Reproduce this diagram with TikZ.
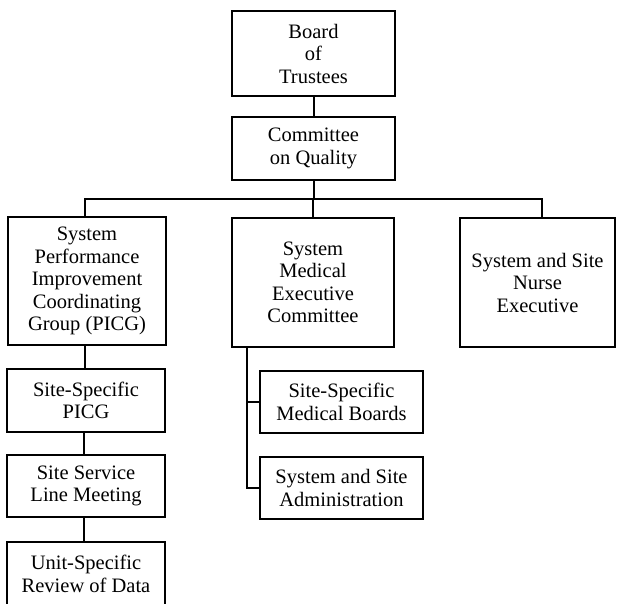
\documentclass[tikz,border=0pt]{standalone}
\usepackage{fontspec}
\setmainfont{Liberation Serif}
\begin{document}
\begin{tikzpicture}[x=1pt,y=-1pt,
  box/.style={draw, line width=2pt, inner sep=0pt, align=center,
    font=\fontsize{20.5}{22.5}\selectfont},
  link/.style={line width=2pt}]
\useasboundingbox (0,0) rectangle (617,603);
\clip (0,0) rectangle (617,603);

% top of the hierarchy
\node[box, minimum width=163pt, minimum height=85pt] (board) at (313.5,53.5) {Board\\of\\Trustees};
\node[box, minimum width=163pt, minimum height=63pt] (comm) at (313.5,148.5) {Committee\\on Quality};

% second tier
\node[box, minimum width=158pt, minimum height=128pt] (picg) at (87,281)
  {System\\Performance\\Improvement\\Coordinating\\Group (PICG)};
\node[box, minimum width=162pt, minimum height=129pt] (smec) at (313,282.5)
  {System\\Medical\\Executive\\Committee};
\node[box, minimum width=155pt, minimum height=129pt] (nurse) at (537.5,282.5)
  {System and Site\\Nurse\\Executive};

% PICG chain
\node[box, minimum width=158pt, minimum height=63pt] (sspicg) at (86,400.5) {Site-Specific\\PICG};
\node[box, minimum width=158pt, minimum height=62pt] (ssl) at (86,486) {Site Service\\Line Meeting};
\node[box, minimum width=158pt, minimum height=64pt] (unit) at (86,574) {Unit-Specific\\Review of Data};

% medical executive branch
\node[box, minimum width=163pt, minimum height=62pt] (ssmb) at (341.5,402) {Site-Specific\\Medical Boards};
\node[box, minimum width=163pt, minimum height=62pt] (ssa) at (341.5,488) {System and Site\\Administration};

% connectors
\coordinate (bus) at (0,199);
\coordinate (tap) at ([xshift=-66pt]smec.south);
\draw[link] (board.south) -- (comm.north);
\draw[link] (comm.south) -- (comm.south |- bus);
\draw[link] ([xshift=-2pt]picg.north) |- ([xshift=4.5pt]nurse.north |- bus) -- ([xshift=4.5pt]nurse.north);
\draw[link] (smec.north) -- (smec.north |- bus);
\draw[link] ([xshift=-2pt]picg.south) -- ([xshift=-2pt]sspicg.north -| picg.south);
\draw[link] ([xshift=-2pt]sspicg.south) -- ([xshift=-2pt]ssl.north);
\draw[link] ([xshift=-2pt]ssl.south) -- ([xshift=-2pt]unit.north);
\draw[link] (tap) |- (ssa.west);
\draw[link] (tap |- ssmb.west) -- (ssmb.west);
\end{tikzpicture}
\end{document}
